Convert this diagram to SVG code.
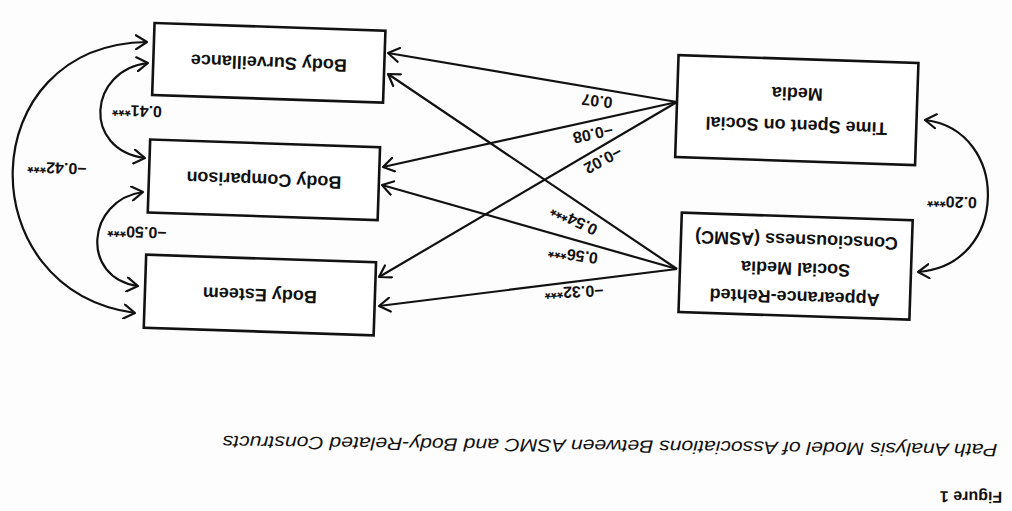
<svg xmlns="http://www.w3.org/2000/svg" width="1012" height="511" viewBox="0 0 1012 511">
<defs>
<marker id="ah" viewBox="0 0 13 16" refX="12" refY="8" markerWidth="13" markerHeight="16" markerUnits="userSpaceOnUse" orient="auto-start-reverse">
<path d="M1,1 L12,8 L1,15" fill="none" stroke="#111" stroke-width="2.2" stroke-linecap="round" stroke-linejoin="round"/>
</marker>
<style>
.box{fill:#fff;stroke:#111;stroke-width:2.6}
.lbl{font-family:"Liberation Sans",Arial,sans-serif;font-weight:bold;font-size:18px;fill:#111;text-anchor:middle;dominant-baseline:central}
.num{font-family:"Liberation Sans",Arial,sans-serif;font-weight:bold;font-size:16px;fill:#111;text-anchor:middle;dominant-baseline:central}
.con{fill:none;stroke:#111;stroke-width:2.2;marker-end:url(#ah)}
.dbl{fill:none;stroke:#111;stroke-width:2.2;marker-start:url(#ah);marker-end:url(#ah)}
.cap{font-family:"Liberation Sans",Arial,sans-serif;font-style:italic;font-size:18px;fill:#111;text-anchor:middle;dominant-baseline:central}
.fig{font-family:"Liberation Sans",Arial,sans-serif;font-weight:bold;font-size:16px;fill:#111;text-anchor:middle;dominant-baseline:central}
</style>
</defs>
<rect width="1012" height="511" fill="#fdfdfd"/>
<g id="connectors">
<path class="con" d="M677,102 L388,53"/>
<path class="con" d="M677,102 L383,167"/>
<path class="con" d="M677,102 L379,277"/>
<path class="con" d="M677,269 L388,74"/>
<path class="con" d="M677,269 L382,185"/>
<path class="con" d="M677,269 L379,306"/>
<path class="dbl" d="M148,63 C88,70 82,150 145,158"/>
<path class="dbl" d="M143,192 C86,200 80,278 138,286"/>
<path class="dbl" d="M147,42 C-28,45 -32,290 135,313"/>
<path class="dbl" d="M925,120 C1010,130 1010,265 918,272"/>
<text class="num" x="597" y="101" transform="rotate(186 597 101)">0.07</text>
<text class="num" x="593" y="134" transform="rotate(168 593 134)">−0.08</text>
<text class="num" x="603" y="160" transform="rotate(152 603 160)">−0.02</text>
<text class="num" x="574" y="220" transform="rotate(206 574 220)">0.54***</text>
<text class="num" x="573" y="255" transform="rotate(188 573 255)">0.56***</text>
<text class="num" x="574" y="292" transform="rotate(177 574 292)">−0.32***</text>
<text class="num" x="137" y="111" transform="rotate(181.9 137 111)">0.41***</text>
<text class="num" x="137" y="232" transform="rotate(181.9 137 232)">−0.50***</text>
<text class="num" x="57" y="168" transform="rotate(181.9 57 168)">−0.42***</text>
<text class="num" x="952" y="202" transform="rotate(181.9 952 202)">0.20***</text>
</g>
<g id="body-surveillance" transform="rotate(181.9 268.8 62.9)">
<rect class="box" x="153.3" y="27" width="231" height="72"/>
<text class="lbl" x="268.8" y="62.9">Body Surveillance</text>
</g>
<g id="body-comparison" transform="rotate(181.9 263.9 179.9)">
<rect class="box" x="148.9" y="143.5" width="230" height="73"/>
<text class="lbl" x="263.9" y="179.9">Body Comparison</text>
</g>
<g id="body-esteem" transform="rotate(181.9 259.9 295)">
<rect class="box" x="144.9" y="258.5" width="230" height="73"/>
<text class="lbl" x="259.9" y="295">Body Esteem</text>
</g>
<g id="time-spent" transform="rotate(181.9 796.8 110.1)">
<rect class="box" x="676.8" y="59.1" width="240" height="102"/>
<text class="lbl" x="796.8" y="94.5">Time Spent on Social</text>
<text class="lbl" x="796.8" y="126.5">Media</text>
</g>
<g id="asmc" transform="rotate(181.9 795.6 266.1)">
<rect class="box" x="680.1" y="216.3" width="231" height="99.5"/>
<text class="lbl" x="795.6" y="235">Appearance-Rehted</text>
<text class="lbl" x="795.6" y="263.5">Social Media</text>
<text class="lbl" x="795.6" y="292">Consciousness (ASMC)</text>
</g>
<text class="cap" x="610" y="446" transform="rotate(180.6 610 446)" textLength="775" lengthAdjust="spacingAndGlyphs">Path Analysis Model of Associations Between ASMC and Body-Related Constructs</text>
<text class="fig" x="971" y="497" transform="rotate(180.6 971 497)">Figure 1</text>
</svg>
